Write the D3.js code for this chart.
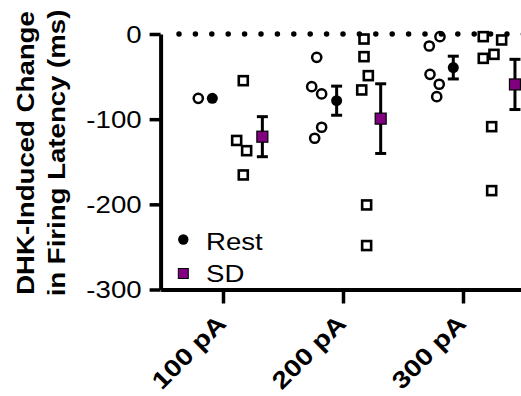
<!DOCTYPE html>
<html>
<head>
<meta charset="utf-8">
<script src="https://cdn.jsdelivr.net/npm/d3@7"></script>
<style>
  body { margin: 0; background: #fff; }
  text { font-family: "Liberation Sans", Arial, sans-serif; fill: #000; }
</style>
</head>
<body>
<div id="chart"></div>
<script>
// groups along the x axis
const categories = ["100 pA", "200 pA", "300 pA"];
const yTicks = [0, -100, -200, -300];

// individual cells, change in latency (ms), one list per current step
const restValues = [
    [-75.5],
    [-27.4, -61.8, -70.4, -109.5, -122.4],
    [-3.1, -14.1, -47.3, -59, -73.6]
];
const sdValues = [
    [-54.8, -125, -137, -165.5],
    [-5.9, -26.6, -48.9, -65.7, -200.7, -248.4],
    [-3.1, -7, -23.9, -28.6, -108.8, -183.9]
];
// scatter offsets in category units
const restJitter = [
    [-0.206],
    [-0.219, -0.261, -0.178, -0.178, -0.236],
    [-0.192, -0.281, -0.275, -0.198, -0.219]
];
const sdJitter = [
    [0.169, 0.114, 0.197, 0.169],
    [0.175, 0.175, 0.211, 0.156, 0.197, 0.197],
    [0.169, 0.322, 0.258, 0.169, 0.239, 0.239]
];
const restMeanOffset = [-0.089, -0.053, -0.081];
const sdMeanOffset = [0.328, 0.314, 0.433];

const purple = "#800080";
const width = 521, height = 396;

let svg = d3.select("#chart")
    .append("svg")
    .attr("width", width)
    .attr("height", height);

let x = d3.scaleLinear()
    .domain([0.48, 3.5])
    .range([160.6, 523]);

let y = d3.scaleLinear()
    .domain([-300, 0])
    .range([289.5, 34]);

// mean +/- SEM per group
function summary(vals) {
    let m = d3.mean(vals);
    let sem = vals.length > 1 ? d3.deviation(vals) / Math.sqrt(vals.length) : 0;
    return {mean: m, sem: sem};
}

function flatten(values, jitter) {
    let out = [];
    values.forEach(function(arr, g) {
        arr.forEach(function(v, i) {
            out.push({g: g + 1, off: jitter[g][i], v: v});
        });
    });
    return out;
}

let restPts = flatten(restValues, restJitter);
let sdPts = flatten(sdValues, sdJitter);

let restSum = restValues.map(function(v, g) {
    let s = summary(v);
    return {g: g + 1, off: restMeanOffset[g], mean: s.mean, sem: s.sem};
});
let sdSum = sdValues.map(function(v, g) {
    let s = summary(v);
    return {g: g + 1, off: sdMeanOffset[g], mean: s.mean, sem: s.sem};
});

// open circles (rest)
svg.append("g").selectAll("circle")
    .data(restPts)
    .enter()
    .append("circle")
    .attr("cx", function(d) { return x(d.g + d.off); })
    .attr("cy", function(d) { return y(d.v); })
    .attr("r", 4.6)
    .attr("fill", "none")
    .attr("stroke", "#000")
    .attr("stroke-width", 2.5);

// open squares (SD)
let sq = 9;
svg.append("g").selectAll("rect")
    .data(sdPts)
    .enter()
    .append("rect")
    .attr("x", function(d) { return x(d.g + d.off) - sq / 2; })
    .attr("y", function(d) { return y(d.v) - sq / 2; })
    .attr("width", sq)
    .attr("height", sq)
    .attr("fill", "none")
    .attr("stroke", "#000")
    .attr("stroke-width", 2.6);

// error bars
function errorBars(data) {
    let eb = svg.append("g")
        .attr("stroke", "#000")
        .attr("stroke-width", 3)
        .selectAll("g")
        .data(data.filter(function(d) { return d.sem > 0; }))
        .enter()
        .append("g");
    eb.append("line")
        .attr("x1", function(d) { return x(d.g + d.off); })
        .attr("x2", function(d) { return x(d.g + d.off); })
        .attr("y1", function(d) { return y(d.mean + d.sem); })
        .attr("y2", function(d) { return y(d.mean - d.sem); });
    [1, -1].forEach(function(sign) {
        eb.append("line")
            .attr("x1", function(d) { return x(d.g + d.off) - 5.5; })
            .attr("x2", function(d) { return x(d.g + d.off) + 5.5; })
            .attr("y1", function(d) { return y(d.mean + sign * d.sem); })
            .attr("y2", function(d) { return y(d.mean + sign * d.sem); });
    });
}
errorBars(restSum);
errorBars(sdSum);

// means
svg.append("g").selectAll("circle")
    .data(restSum)
    .enter()
    .append("circle")
    .attr("cx", function(d) { return x(d.g + d.off); })
    .attr("cy", function(d) { return y(d.mean); })
    .attr("r", 5.5)
    .attr("fill", "#000");

let msq = 11;
svg.append("g").selectAll("rect")
    .data(sdSum)
    .enter()
    .append("rect")
    .attr("x", function(d) { return x(d.g + d.off) - msq / 2; })
    .attr("y", function(d) { return y(d.mean) - msq / 2; })
    .attr("width", msq)
    .attr("height", msq)
    .attr("fill", purple)
    .attr("stroke", "#000")
    .attr("stroke-width", 1.2);

// dotted zero line
svg.append("line")
    .attr("x1", 179)
    .attr("x2", width + 5)
    .attr("y1", y(0))
    .attr("y2", y(0))
    .attr("stroke", "#000")
    .attr("stroke-width", 5.5)
    .attr("stroke-linecap", "round")
    .attr("stroke-dasharray", "0,16.4");

// y axis (plain hyphen for negatives, like the figure)
let yAxis = svg.append("g")
    .attr("transform", `translate(${x(0.48)},0)`)
    .call(d3.axisLeft(y).tickValues(yTicks).tickSize(11).tickSizeOuter(0)
        .tickFormat(function(d) { return String(d); }));
yAxis.select(".domain").attr("stroke-width", 4);
yAxis.selectAll(".tick line").attr("stroke-width", 3.5);
yAxis.selectAll(".tick text")
    .attr("x", null)
    .attr("dy", "0.35em")
    .attr("transform", "translate(-19,0) scale(1.15,1)")
    .style("font-size", "24px")
    .style("font-family", "'Liberation Sans', Arial, sans-serif");

// x axis
let xAxis = svg.append("g")
    .attr("transform", `translate(0,${y(-300)})`)
    .call(d3.axisBottom(x).tickValues([1, 2, 3]).tickSize(14).tickSizeOuter(0)
        .tickFormat(function(d) { return categories[d - 1]; }));
xAxis.select(".domain").attr("stroke-width", 4);
xAxis.selectAll(".tick line").attr("stroke-width", 3.5);
xAxis.selectAll(".tick text")
    .attr("y", null)
    .attr("dy", null)
    .attr("text-anchor", "end")
    .attr("transform", "translate(4,35.5) rotate(-45) scale(1.18,1)")
    .style("font-size", "24px")
    .style("font-weight", "bold")
    .style("font-family", "'Liberation Sans', Arial, sans-serif");

// y-axis title (two lines)
let titleLines = ["DHK-Induced Change", "in Firing Latency (ms)"];
let titleX = [33.5, 65];
titleLines.forEach(function(t, i) {
    svg.append("text")
        .attr("transform", `translate(${titleX[i]},153) rotate(-90) scale(1.15,1)`)
        .attr("text-anchor", "middle")
        .style("font-size", "24px")
        .style("font-weight", "bold")
        .text(t);
});

// legend
let legend = svg.append("g");
legend.append("circle")
    .attr("cx", 183.3)
    .attr("cy", 239.5)
    .attr("r", 5.2)
    .attr("fill", "#000");
legend.append("rect")
    .attr("x", 178.3)
    .attr("y", 268.5)
    .attr("width", 10)
    .attr("height", 10)
    .attr("fill", purple)
    .attr("stroke", "#000")
    .attr("stroke-width", 1);
legend.append("text")
    .attr("transform", "translate(206,250) scale(1.15,1)")
    .style("font-size", "24px")
    .text("Rest");
legend.append("text")
    .attr("transform", "translate(206,282) scale(1.15,1)")
    .style("font-size", "24px")
    .text("SD");
</script>
</body>
</html>
